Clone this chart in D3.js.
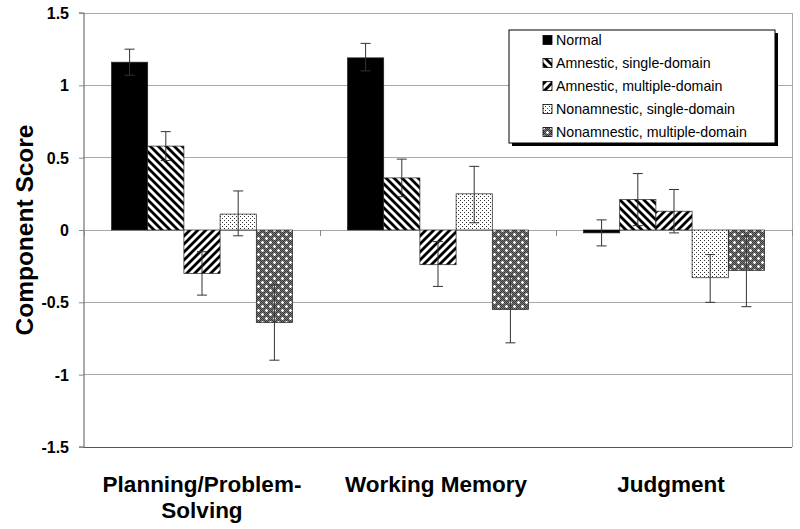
<!DOCTYPE html>
<html><head><meta charset="utf-8">
<script src="https://cdn.jsdelivr.net/npm/d3@7"></script>
<style>body{margin:0;background:#fff}svg{display:block;font-family:"Liberation Sans",Arial,sans-serif}</style>
</head><body>
<svg id="c" width="800" height="529"></svg>
<script>
const categories = ["Planning/Problem-Solving", "Working Memory", "Judgment"];
const categoryLines = [["Planning/Problem-", "Solving"], ["Working Memory"], ["Judgment"]];
const series = ["Normal", "Amnestic, single-domain", "Amnestic, multiple-domain", "Nonamnestic, single-domain", "Nonamnestic, multiple-domain"];
const values = [
  [1.16, 0.58, -0.30, 0.11, -0.64],
  [1.19, 0.36, -0.24, 0.25, -0.55],
  [-0.02, 0.21, 0.13, -0.33, -0.28]
];
const errLow = [
  [1.07, 0.48, -0.45, -0.04, -0.90],
  [1.10, 0.23, -0.39, 0.05, -0.78],
  [-0.11, 0.03, -0.02, -0.50, -0.53]
];
const errHigh = [
  [1.25, 0.68, -0.15, 0.27, -0.38],
  [1.29, 0.49, -0.08, 0.44, -0.32],
  [0.07, 0.39, 0.28, -0.17, -0.04]
];
const yTicks = [-1.5, -1, -0.5, 0, 0.5, 1, 1.5];
const yLabel = "Component Score";

const svg = d3.select("#c");
const L = 84, R = 792, T = 13, B = 447;

// patterns
const defs = svg.append("defs");
const p1 = defs.append("pattern").attr("id","pA").attr("patternUnits","userSpaceOnUse").attr("width",8).attr("height",8);
p1.append("rect").attr("width",8).attr("height",8).attr("fill","#fff");
p1.append("path").attr("d","M-2,-2 L10,10 M-6,2 L6,14 M2,-6 L14,6").attr("stroke","#000").attr("stroke-width",2.8);
const p2 = defs.append("pattern").attr("id","pB").attr("patternUnits","userSpaceOnUse").attr("width",8).attr("height",8);
p2.append("rect").attr("width",8).attr("height",8).attr("fill","#fff");
p2.append("path").attr("d","M-2,10 L10,-2 M-6,6 L6,-6 M2,14 L14,2").attr("stroke","#000").attr("stroke-width",2.8);
const p3 = defs.append("pattern").attr("id","pC").attr("patternUnits","userSpaceOnUse").attr("width",4).attr("height",4);
p3.append("rect").attr("width",4).attr("height",4).attr("fill","#fff");
p3.append("rect").attr("x",0).attr("y",0).attr("width",1).attr("height",1).attr("fill","#333");
p3.append("rect").attr("x",2).attr("y",2).attr("width",1).attr("height",1).attr("fill","#333");
const p4 = defs.append("pattern").attr("id","pD").attr("patternUnits","userSpaceOnUse").attr("width",8).attr("height",8);
p4.append("rect").attr("width",8).attr("height",8).attr("fill","#7a7a7a");
for (let i=0;i<8;i++) for (let j=0;j<8;j++) if ((i+j)%2===0 && !((i>=1&&i<=3&&j>=1&&j<=3)||(i>=5&&i<=7&&j>=5&&j<=7))) p4.append("rect").attr("x",i).attr("y",j).attr("width",1).attr("height",1).attr("fill","#3a3a3a");
p4.append("path").attr("d","M2,1h1v1h1v1h-1v1h-1v-1h-1v-1h1z M6,5h1v1h1v1h-1v1h-1v-1h-1v-1h1z").attr("fill","#fff");
const fills = ["#000", "url(#pA)", "url(#pB)", "url(#pC)", "url(#pD)"];

const y = d3.scaleLinear().domain([-1.5, 1.5]).range([B, T]);
const x0 = d3.scaleBand().domain(categories).range([L, R]).padding(0);
const x1 = d3.scaleBand().domain(series).range([0, x0.bandwidth()]).paddingInner(0).paddingOuter(0.76);

// gridlines
svg.append("g").selectAll("line").data(yTicks.filter(d=>d!==-1.5)).join("line")
  .attr("x1",L).attr("x2",R).attr("y1",d=>y(d)).attr("y2",d=>y(d))
  .attr("stroke","#a8a8a8").attr("stroke-width",1).attr("shape-rendering","crispEdges");
// frame
svg.append("line").attr("x1",R).attr("x2",R).attr("y1",T).attr("y2",B).attr("stroke","#a8a8a8").attr("shape-rendering","crispEdges");
svg.append("line").attr("x1",L).attr("x2",R).attr("y1",B).attr("y2",B).attr("stroke","#555").attr("shape-rendering","crispEdges");

// y axis
const yAxis = svg.append("g").attr("transform",`translate(${L},0)`)
  .call(d3.axisLeft(y).tickValues(yTicks).tickSize(5).tickFormat(d => String(d)));
yAxis.select(".domain").attr("stroke","#555").attr("d",`M-5,${T}H0V${B}H-5`);
yAxis.selectAll(".tick line").attr("stroke","#888");
yAxis.selectAll(".tick text").attr("font-size",16).attr("font-weight","bold").attr("fill","#000").attr("x",-15).attr("dy","0.35em");

// category ticks at zero line
svg.append("g").selectAll("line").data(d3.range(categories.length+1)).join("line")
  .attr("x1",i=>L+i*x0.bandwidth()).attr("x2",i=>L+i*x0.bandwidth())
  .attr("y1",y(0)).attr("y2",y(0)+6).attr("stroke","#888").attr("shape-rendering","crispEdges");

// bars
const groups = svg.append("g").selectAll("g").data(categories).join("g")
  .attr("transform",d=>`translate(${x0(d)},0)`);
groups.each(function(cat, ci){
  const g = d3.select(this);
  series.forEach((s, si)=>{
    const v = values[ci][si];
    g.append("rect").attr("x",x1(s)).attr("width",x1.bandwidth())
      .attr("y",y(Math.max(0,v))).attr("height",Math.abs(y(v)-y(0)))
      .attr("fill",fills[si]).attr("stroke","#222").attr("stroke-width",0.7);
  });
  series.forEach((s, si)=>{
    const cx = x1(s)+x1.bandwidth()/2;
    const lo = y(errLow[ci][si]), hi = y(errHigh[ci][si]);
    g.append("path").attr("d",`M${cx},${hi}V${lo}M${cx-5},${hi}H${cx+5}M${cx-5},${lo}H${cx+5}`)
      .attr("stroke","#333").attr("stroke-width",1).attr("fill","none");
  });
});

// category labels
const catCenters = [203, 439, 676];
categories.forEach((c, ci)=>{
  const t = svg.append("text").attr("y",492)
    .attr("text-anchor","middle").attr("font-size",22.5).attr("font-weight","bold").attr("fill","#000");
  categoryLines[ci].forEach((ln, li)=>{
    t.append("tspan").attr("x",x0(c)+x0.bandwidth()/2 + (ci===0?0:ci===1?-2:-3)).attr("dy", li===0?0:26).text(ln);
  });
});

// y label
svg.append("text").attr("transform",`translate(33,${y(0)}) rotate(-90)`).attr("text-anchor","middle")
  .attr("font-size",24.5).attr("font-weight","bold").attr("fill","#000").text(yLabel);

// legend
const lg = svg.append("g").attr("transform","translate(509,30)");
lg.append("rect").attr("x",3).attr("y",3).attr("width",266).attr("height",113).attr("fill","#000");
lg.append("rect").attr("x",0).attr("y",0).attr("width",266).attr("height",113).attr("fill","#fff").attr("stroke","#000").attr("stroke-width",1);
series.forEach((s, si)=>{
  const cy = 10 + si*23;
  lg.append("rect").attr("x",34).attr("y",cy-4.5).attr("width",9).attr("height",9).attr("fill",fills[si]).attr("stroke","#000").attr("stroke-width",0.8);
  lg.append("text").attr("x",47).attr("y",cy).attr("dy","0.35em").attr("font-size",14.2).attr("fill","#000").text(s);
});
</script>
</body></html>
